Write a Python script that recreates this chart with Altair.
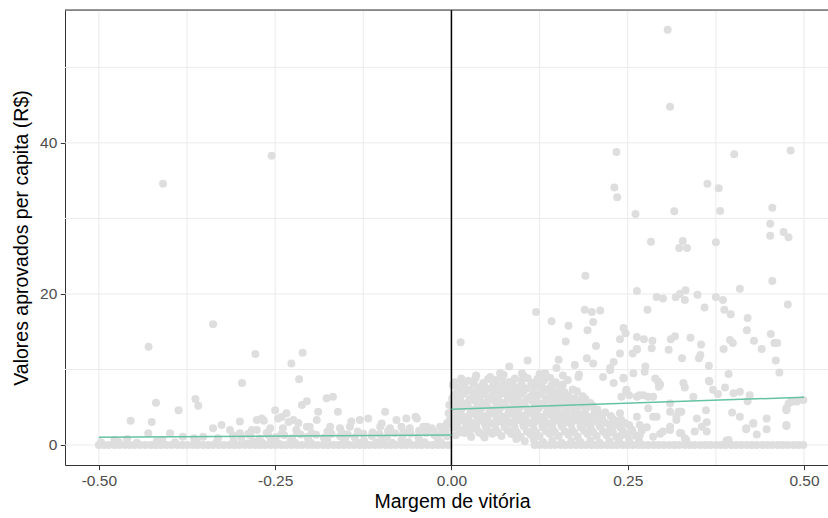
import altair as alt
import pandas as pd

# ---------------- data ----------------
# left of the cutoff: observations sitting on zero
left_zero_x = [-0.500,-0.493,-0.486,-0.478,-0.471,-0.463,-0.456,-0.449,-0.441,-0.434,-0.426,-0.419,
               -0.412,-0.404,-0.397,-0.389,-0.382,-0.375,-0.367,-0.360,-0.352,-0.345,-0.338,-0.330,
               -0.323,-0.315,-0.308,-0.301,-0.293,-0.286,-0.278,-0.271,-0.264,-0.256,-0.249,-0.241,
               -0.234,-0.227,-0.219,-0.212,-0.204,-0.197,-0.190,-0.182,-0.175,-0.167,-0.160,-0.153,
               -0.145,-0.138,-0.130,-0.123,-0.116,-0.108,-0.101,-0.093,-0.086,-0.079,-0.071,-0.064,
               -0.056,-0.049,-0.042,-0.034,-0.027,-0.019,-0.012,-0.004]

# left of the cutoff: low values (x, y)
left_low = [(-0.497,0.35),(-0.472,0.4),(-0.446,0.3),(-0.418,0.45),(-0.392,0.35),(-0.361,0.5),(-0.333,0.4),
            (-0.309,0.55),(-0.281,0.45),(-0.256,0.6),(-0.228,0.5),(-0.203,0.65),(-0.176,0.55),(-0.151,0.7),
            (-0.124,0.6),(-0.098,0.75),(-0.071,0.65),(-0.046,0.8),(-0.019,0.7),
            (-0.290,0.2),(-0.268,0.25),(-0.245,0.2),(-0.222,0.3),(-0.199,0.25),(-0.153,0.3),(-0.130,0.25),
            (-0.107,0.35),(-0.084,0.3),(-0.061,0.4),(-0.038,0.35),(-0.015,0.4),
            (-0.331,0.9),(-0.298,1.0),(-0.272,0.85),(-0.249,1.05),(-0.226,0.9),(-0.204,1.1),(-0.181,0.95),
            (-0.158,1.15),(-0.137,1.0),(-0.113,1.2),(-0.091,1.05),(-0.069,1.25),(-0.047,1.1),(-0.024,1.3),
            (-0.006,1.15),
            (-0.310,1.3),(-0.285,1.25),(-0.260,1.35),(-0.237,1.3),(-0.214,1.4),(-0.192,1.35),(-0.170,1.45),
            (-0.147,1.4),(-0.125,1.5),(-0.102,1.45),(-0.080,1.55),(-0.058,1.5),(-0.036,1.6),(-0.014,1.55),
            (-0.288,1.5),(-0.262,1.6),(-0.241,1.45),(-0.219,1.7),(-0.198,1.55),(-0.176,1.75),(-0.155,1.6),
            (-0.133,1.8),(-0.112,1.65),(-0.090,1.85),(-0.068,1.7),(-0.046,1.9),(-0.025,1.75),(-0.008,1.95),
            (-0.276,2.0),(-0.257,2.2),(-0.239,2.2),(-0.220,2.0),(-0.201,2.4),(-0.172,2.4),(-0.158,2.2),
            (-0.144,2.4),(-0.101,2.4),(-0.087,2.2),(-0.071,2.4),(-0.059,2.2),(-0.040,2.4),(-0.028,2.2),
            (-0.016,2.4),(-0.007,2.65),
            (-0.478,0.7),(-0.430,1.55),(-0.399,1.55),(-0.381,1.1),(-0.352,1.1),(-0.338,2.2),(-0.326,2.65),
            (-0.314,2.0),(-0.300,3.1),(-0.300,1.55),(-0.283,2.0),(-0.455,3.2),(-0.425,3.05),(-0.460,0.8),
            (-0.410,0.7),(-0.365,0.9)]

# left of the cutoff: scattered higher values (x, y)
left_high = [(-0.409,34.6),(-0.255,38.3),(-0.338,16.0),(-0.4295,13.0),(-0.278,12.05),(-0.211,12.2),
             (-0.227,10.8),(-0.216,8.7),(-0.297,8.2),(-0.419,5.6),(-0.363,6.1),(-0.359,5.2),(-0.387,4.6),
             (-0.276,3.3),(-0.269,3.5),(-0.250,4.6),(-0.246,3.5),(-0.234,4.2),(-0.224,3.3),(-0.212,5.3),
             (-0.205,5.8),(-0.189,4.4),(-0.191,3.3),(-0.177,6.2),(-0.168,6.4),(-0.161,4.4),(-0.130,3.3),
             (-0.118,3.5),(-0.094,4.4),(-0.078,3.3),(-0.064,3.5),(-0.049,3.5),(-0.266,3.2),(-0.241,3.7),
             (-0.231,3.05),(-0.217,2.9),(-0.205,2.4),(-0.142,3.1),(-0.099,2.85),(-0.051,3.75),(-0.035,2.4),
             (-0.002,3.3),(-0.004,4.2),(-0.003,5.3),(-0.006,2.9)]

# right of the cutoff: observations sitting on zero
right_zero_x = [0.118,0.125,0.133,0.140,0.147,0.155,0.162,0.169,0.177,0.184,0.191,0.199,0.206,0.213,
                0.221,0.228,0.235,0.243,0.250,0.257,0.265,0.272,0.279,0.287,0.294,0.301,0.309,0.316,
                0.323,0.331,0.338,0.345,0.353,0.360,0.367,0.375,0.382,0.389,0.397,0.404,0.411,0.419,
                0.426,0.433,0.441,0.448,0.455,0.463,0.470,0.477,0.485,0.492,0.499]

# right of the cutoff: dense cloud (x, y)
right_cloud = [(0.092,0.8),(0.104,0.5),(0.117,0.7),(0.130,0.4),(0.143,0.6),(0.156,0.3),(0.170,0.5),
               (0.183,0.4),(0.197,0.6),(0.210,0.3),(0.224,0.5),(0.238,0.4),(0.252,0.7),(0.266,0.5),
               (0.006,1.3),(0.019,1.6),(0.028,1.05),(0.044,1.4),(0.047,1.0),(0.058,1.5),(0.071,1.2),
               (0.085,1.45),(0.098,1.1),(0.112,1.4),(0.125,1.15),(0.139,1.5),(0.152,1.2),(0.166,1.35),
               (0.179,1.1),(0.193,1.45),(0.206,1.2),(0.220,1.3),(0.234,1.05),(0.248,1.4),(0.262,1.2),
               (0.012,1.7),(0.026,1.85),(0.039,1.65),(0.053,1.8),(0.066,1.7),(0.080,1.9),(0.093,1.65),
               (0.107,1.8),(0.120,1.7),(0.134,1.85),(0.147,1.65),(0.161,1.8),(0.174,1.7),(0.188,1.9),
               (0.201,1.7),(0.215,1.8),(0.229,1.65),(0.243,1.85),(0.257,1.7),
               (0.003,2.3),(0.013,2.0),(0.025,2.4),(0.036,2.1),(0.049,2.35),(0.063,2.0),(0.076,2.3),
               (0.090,2.15),(0.103,2.45),(0.117,2.05),(0.130,2.3),(0.144,2.1),(0.157,2.4),(0.171,2.0),
               (0.184,2.3),(0.198,2.15),(0.211,2.4),(0.225,2.0),(0.240,2.3),(0.255,2.1),(0.270,1.9),
               (0.008,2.65),(0.021,2.55),(0.035,2.7),(0.048,2.6),(0.062,2.75),(0.075,2.55),(0.089,2.7),
               (0.102,2.6),(0.116,2.75),(0.129,2.55),(0.143,2.7),(0.156,2.6),(0.170,2.75),(0.183,2.55),
               (0.197,2.7),(0.210,2.6),(0.224,2.7),(0.238,2.55),(0.252,2.65),
               (0.002,3.0),(0.015,3.25),(0.029,2.9),(0.042,3.2),(0.056,2.85),(0.069,3.15),(0.083,2.95),
               (0.096,3.3),(0.110,2.9),(0.123,3.2),(0.137,2.85),(0.150,3.25),(0.164,3.0),(0.177,3.3),
               (0.191,2.9),(0.204,3.15),(0.218,2.95),(0.232,3.2),(0.246,2.9),
               (0.010,3.5),(0.024,3.45),(0.037,3.6),(0.051,3.5),(0.064,3.55),(0.078,3.45),(0.091,3.6),
               (0.105,3.5),(0.118,3.55),(0.132,3.45),(0.145,3.6),(0.159,3.5),(0.172,3.55),(0.186,3.45),
               (0.200,3.6),(0.214,3.5),(0.229,3.45),
               (0.007,3.9),(0.020,3.7),(0.034,4.05),(0.047,3.8),(0.061,4.1),(0.074,3.75),(0.088,4.0),
               (0.101,3.85),(0.115,4.1),(0.128,3.7),(0.142,3.95),(0.155,4.1),(0.169,3.8),(0.182,4.0),
               (0.196,3.75),(0.210,4.05),(0.226,3.85),
               (0.001,4.35),(0.013,4.4),(0.027,4.3),(0.040,4.45),(0.054,4.35),(0.067,4.4),(0.081,4.3),
               (0.094,4.45),(0.108,4.35),(0.121,4.4),(0.135,4.3),(0.148,4.45),(0.162,4.35),(0.175,4.4),
               (0.189,4.3),(0.203,4.4),(0.218,4.35),
               (0.003,4.8),(0.016,5.0),(0.030,4.65),(0.043,4.9),(0.057,4.7),(0.070,5.0),(0.084,4.75),
               (0.097,4.95),(0.111,4.6),(0.124,4.9),(0.138,4.7),(0.151,5.0),(0.165,4.8),(0.178,4.65),
               (0.192,4.95),(0.207,4.7),
               (0.010,5.25),(0.023,5.3),(0.037,5.2),(0.050,5.3),(0.064,5.25),(0.077,5.2),(0.091,5.3),
               (0.104,5.25),(0.118,5.2),(0.131,5.3),(0.145,5.25),(0.158,5.2),(0.172,5.3),(0.186,5.25),
               (0.200,5.2),
               (0.006,5.7),(0.019,5.5),(0.033,5.85),(0.046,5.6),(0.060,5.9),(0.073,5.55),(0.087,5.8),
               (0.100,5.65),(0.114,5.9),(0.127,5.5),(0.141,5.75),(0.154,5.9),(0.168,5.6),(0.181,5.8),
               (0.197,5.55),
               (0.001,6.15),(0.012,6.2),(0.026,6.1),(0.039,6.2),(0.053,6.15),(0.066,6.1),(0.080,6.2),
               (0.093,6.15),(0.107,6.1),(0.120,6.2),(0.134,6.15),(0.147,6.1),(0.161,6.2),(0.175,6.15),
               (0.190,6.1),
               (0.004,6.6),(0.017,6.8),(0.031,6.45),(0.044,6.7),(0.058,6.5),(0.071,6.8),(0.085,6.55),
               (0.098,6.75),(0.112,6.4),(0.125,6.7),(0.139,6.5),(0.152,6.8),(0.166,6.6),(0.186,6.45),
               (0.008,7.05),(0.021,7.1),(0.035,7.0),(0.048,7.1),(0.062,7.05),(0.075,7.0),(0.089,7.1),
               (0.102,7.05),(0.116,7.0),(0.129,7.1),(0.144,7.05),(0.160,7.0),(0.178,7.1),
               (0.011,7.5),(0.025,7.3),(0.039,7.65),(0.052,7.4),(0.066,7.7),(0.079,7.35),(0.093,7.6),
               (0.106,7.45),(0.120,7.7),(0.136,7.4),(0.153,7.6),(0.172,7.35),
               (0.002,7.95),(0.018,7.9),(0.032,8.0),(0.046,7.95),(0.059,7.9),(0.073,8.0),(0.087,7.95),
               (0.100,7.9),(0.113,8.0),(0.127,7.95),(0.142,7.9),(0.158,8.0),
               (0.005,8.3),(0.024,8.5),(0.045,8.2),(0.063,8.6),(0.082,8.35),(0.099,8.55),(0.116,8.25),
               (0.131,8.5),(0.148,8.3),(0.165,8.6),
               (0.014,8.8),(0.034,8.85),(0.052,8.75),(0.072,8.9),(0.090,8.8),(0.108,8.85),(0.122,8.75),
               (0.140,8.9),
               (0.035,9.2),(0.055,9.0),(0.069,9.5),(0.074,9.3),(0.100,9.5),(0.103,9.1),(0.125,9.4),
               (0.133,9.5),(0.158,9.2),(0.181,9.35),(0.215,9.0),(0.180,9.0),(0.225,9.9),(0.230,11.0)]

# right of the cutoff: scattered values (x, y)
right_high = [(0.3066,54.97),(0.310,44.8),(0.234,38.8),(0.401,38.5),(0.481,39.0),(0.231,34.1),(0.235,32.8),
              (0.363,34.6),(0.379,34.0),(0.261,30.6),(0.316,30.95),(0.381,31.0),(0.455,31.4),(0.452,29.3),
              (0.452,27.7),(0.471,28.2),(0.478,27.5),(0.283,26.9),(0.328,27.0),(0.323,26.1),(0.334,26.1),
              (0.375,26.85),
              (0.190,22.4),(0.263,20.4),(0.291,19.6),(0.300,19.4),(0.318,19.55),(0.324,20.0),(0.332,20.5),
              (0.331,19.2),(0.349,19.9),(0.359,18.2),(0.375,19.6),(0.385,19.2),(0.387,17.9),(0.396,17.3),
              (0.409,20.7),(0.455,21.7),(0.477,18.6),(0.420,16.8),(0.419,15.2),(0.429,13.8),(0.440,12.7),
              (0.453,14.7),(0.458,13.5),(0.462,13.5),(0.460,11.2),(0.465,9.6),(0.120,17.6),(0.142,16.4),
              (0.166,15.8),(0.162,13.7),(0.189,17.9),(0.199,17.6),(0.211,17.8),(0.201,16.3),(0.193,15.2),
              (0.205,13.1),(0.013,13.6),(0.278,17.9),(0.244,15.5),(0.247,14.8),(0.239,14.0),(0.263,14.3),
              (0.273,14.0),(0.285,13.8),(0.284,12.8),(0.311,14.0),(0.317,14.4),(0.339,14.2),(0.354,13.3),
              (0.308,12.6),(0.327,11.5),(0.351,11.5),(0.353,11.9),(0.365,10.5),(0.386,12.7),(0.395,13.9),
              (0.399,13.5),(0.393,9.4),(0.365,8.5),(0.257,12.1),(0.263,12.7),(0.258,9.5),(0.275,10.4),
              (0.274,9.7),(0.289,8.8),(0.296,8.0),(0.244,8.9),(0.331,7.6),(0.343,6.4),(0.371,7.3),
              (0.378,6.75),(0.388,7.6),(0.400,6.85),(0.409,7.05),(0.423,6.6),(0.420,5.8),(0.478,5.5),
              (0.485,5.75),(0.499,5.95),(0.475,4.6),(0.475,2.5),(0.447,3.5),(0.447,2.1),(0.433,1.4),
              (0.428,2.8),(0.418,2.1),(0.409,3.75),(0.398,4.3),(0.390,0.6),(0.361,4.6),(0.348,3.5),
              (0.362,3.0),(0.355,2.4),(0.362,1.8),(0.345,1.8),(0.324,1.6),(0.331,0.9),(0.319,3.75),
              (0.324,4.4),(0.310,4.4),(0.310,2.4),(0.300,1.8),(0.296,1.5),(0.286,3.75),(0.279,4.85),
              (0.277,2.35),(0.267,2.65),(0.267,1.3),(0.286,6.4),(0.294,7.7),(0.293,8.4),(0.272,6.6),
              (0.263,6.4),(0.279,6.4),(0.248,7.3),(0.252,6.6),(0.241,6.4),(0.239,4.2),(0.241,3.3),
              (0.256,2.0),(0.241,1.3),(0.233,2.65),
              (0.082,10.4),(0.108,11.2),(0.152,11.3),(0.149,10.2),(0.016,8.4),(0.175,10.6),(0.192,11.5),
              (0.201,10.8),(0.239,12.1),(0.263,12.6),(0.225,10.2),(0.230,8.2),(0.244,8.8),(0.248,7.1),
              (0.267,6.6),(0.310,5.5),(0.322,4.4),(0.263,3.75),(0.291,3.75),(0.319,3.3),(0.310,2.0),
              (0.286,1.1),(0.329,8.2),(0.366,8.4),(0.326,4.4),(0.326,1.55),(0.333,0.66),(0.393,0.66),
              (0.482,5.75),(0.490,5.75),(0.475,4.85),(0.475,2.65),(0.428,2.9),(0.418,2.2)]

# fitted lines on each side of the cutoff
fit_left_x = [-0.5, 0.0]
fit_left_y = [1.02, 1.32]
fit_right_x = [0.0, 0.5]
fit_right_y = [4.73, 6.32]

# axis breaks
x_breaks = [-0.5, -0.25, 0.0, 0.25, 0.5]
x_minor = [-0.375, -0.125, 0.125, 0.375]
y_breaks = [0, 20, 40]
y_minor = [10, 30, 50]
cutoff = [0.0]

# ---------------- tables ----------------
pts = ([(x, 0.0) for x in left_zero_x] + left_low + left_high +
       [(x, 0.0) for x in right_zero_x] + right_cloud + right_high)
df_pts = pd.DataFrame(pts, columns=["margem", "valor"])
df_fit = pd.DataFrame({
    "margem": fit_left_x + fit_right_x,
    "valor": fit_left_y + fit_right_y,
    "lado": ["esq", "esq", "dir", "dir"],
})
df_gx = pd.DataFrame({"margem": x_breaks + x_minor})
df_gy = pd.DataFrame({"valor": y_breaks + y_minor})
df_cut = pd.DataFrame({"margem": cutoff})

FONT = "Liberation Sans"
XTITLE = "Margem de vitória"
YTITLE = "Valores aprovados per capita (R$)"
xscale = alt.Scale(domain=[-0.548, 0.534], nice=False, zero=False)
yscale = alt.Scale(domain=[-2.65, 57.6], nice=False, zero=False)

x_axis = alt.Axis(values=x_breaks, grid=False, domainColor="#333333", tickColor="#333333",
                  tickSize=4.7, labelPadding=3.5, labelFontSize=15.5, labelColor="#4D4D4D",
                  labelFont=FONT, titleFont=FONT, titleFontSize=19.5, titleFontWeight="normal",
                  titleColor="#000000", titlePadding=4, titleX=387,
                  labelExpr="datum.value < 0 ? '-' + format(-datum.value, '.2f') : format(datum.value, '.2f')")
y_axis = alt.Axis(values=y_breaks, grid=False, domainColor="#333333", tickColor="#333333",
                  tickSize=4.7, labelPadding=3.5, labelFontSize=15.5, labelColor="#4D4D4D",
                  labelFont=FONT, titleFont=FONT, titleFontSize=19.5, titleFontWeight="normal",
                  titleColor="#000000", titlePadding=8)


def X(field):
    return alt.X(f"{field}:Q", scale=xscale, axis=x_axis, title=XTITLE)


def Y(field):
    return alt.Y(f"{field}:Q", scale=yscale, axis=y_axis, title=YTITLE)


grid_x = alt.Chart(df_gx).mark_rule(color="#EBEBEB", strokeWidth=1).encode(x=X("margem"))
grid_y = alt.Chart(df_gy).mark_rule(color="#EBEBEB", strokeWidth=1).encode(y=Y("valor"))

points = alt.Chart(df_pts).mark_circle(size=64, color="#DEDEDE", opacity=1, clip=True).encode(
    x=X("margem"), y=Y("valor"))

vline = alt.Chart(df_cut).mark_rule(color="#000000", strokeWidth=1.5).encode(x=X("margem"))

fit = alt.Chart(df_fit).mark_line(color="#66C2A5", strokeWidth=1.5).encode(
    x=X("margem"), y=Y("valor"), detail="lado:N")

top_border = alt.Chart(df_cut).mark_rule(color="#333333", strokeWidth=1).encode(
    x=alt.value(0), x2=alt.value(763), y=alt.value(0))

chart = alt.layer(grid_x, grid_y, points, vline, fit, top_border).properties(
    width=763, height=455,
    autosize=alt.AutoSizeParams(type="none"),
    padding={"left": 65, "top": 10, "right": 0, "bottom": 53},
).configure_view(stroke=None).configure(background="white")

chart.save("out.html", embed_options={"renderer": "svg", "actions": False})
